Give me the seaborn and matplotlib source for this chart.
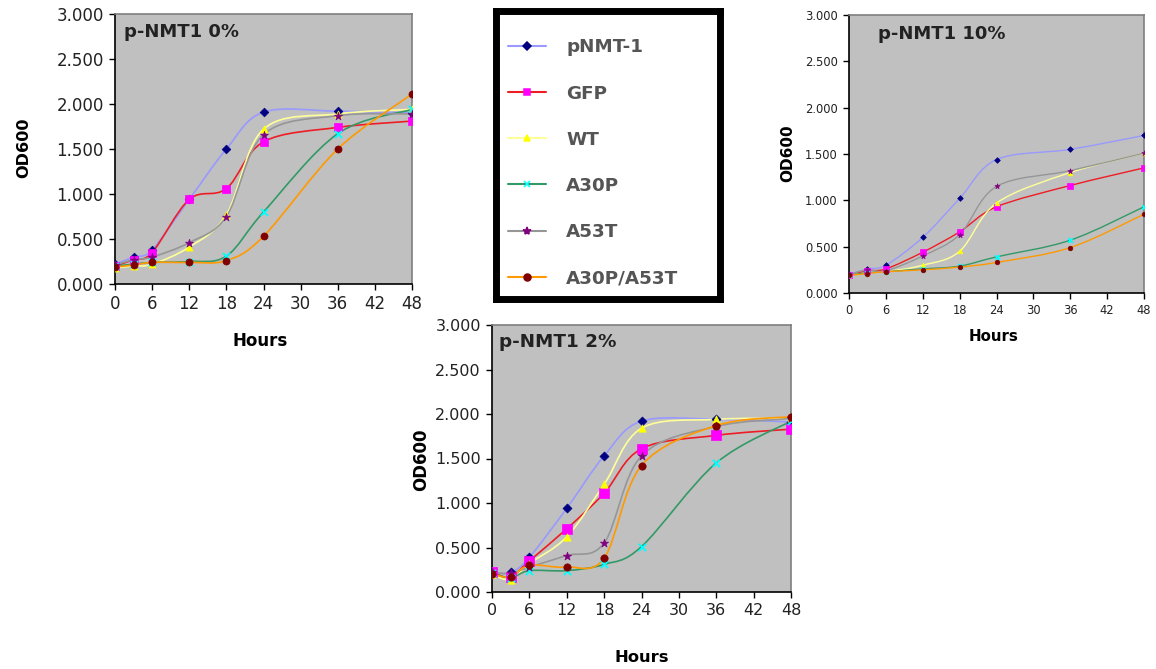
import numpy as np
import pandas as pd
import matplotlib
matplotlib.use("Agg")
import matplotlib.pyplot as plt
from matplotlib.path import Path
from matplotlib.patches import PathPatch
from matplotlib.lines import Line2D
from matplotlib.ticker import FormatStrFormatter
import seaborn as sns

sns.set_theme(style="white")
plt.rcParams['font.family'] = ['DejaVu Sans']

# ---------------- data ----------------
hours = [0, 3, 6, 12, 18, 24, 36, 48]
series_names = ["pNMT-1", "GFP", "WT", "A30P", "A53T", "A30P/A53T"]

# p-NMT1 0%
nmt0_pNMT1 = [0.22, 0.30, 0.38, 0.94, 1.50, 1.91, 1.92, 1.90]
nmt0_GFP = [0.20, 0.27, 0.35, 0.94, 1.06, 1.58, 1.74, 1.81]
nmt0_WT = [0.18, 0.20, 0.22, 0.41, 0.77, 1.72, 1.89, 1.94]
nmt0_A30P = [0.20, 0.22, 0.24, 0.25, 0.31, 0.80, 1.67, 1.94]
nmt0_A53T = [0.21, 0.27, 0.30, 0.46, 0.75, 1.66, 1.87, 1.89]
nmt0_A30PA53T = [0.19, 0.21, 0.24, 0.24, 0.26, 0.53, 1.50, 2.11]

# p-NMT1 2%
nmt2_pNMT1 = [0.22, 0.22, 0.39, 0.94, 1.53, 1.92, 1.94, 1.91]
nmt2_GFP = [0.22, 0.17, 0.35, 0.71, 1.11, 1.61, 1.76, 1.83]
nmt2_WT = [0.20, 0.14, 0.32, 0.62, 1.21, 1.84, 1.94, 1.95]
nmt2_A30P = [0.21, 0.16, 0.24, 0.24, 0.31, 0.51, 1.45, 1.92]
nmt2_A53T = [0.22, 0.21, 0.28, 0.41, 0.55, 1.53, 1.86, 1.95]
nmt2_A30PA53T = [0.20, 0.17, 0.30, 0.28, 0.38, 1.42, 1.87, 1.97]

# p-NMT1 10%
nmt10_pNMT1 = [0.20, 0.26, 0.30, 0.60, 1.02, 1.44, 1.55, 1.70]
nmt10_GFP = [0.19, 0.24, 0.26, 0.44, 0.66, 0.93, 1.16, 1.35]
nmt10_WT = [0.19, 0.22, 0.23, 0.30, 0.45, 0.97, 1.30, 1.51]
nmt10_A30P = [0.19, 0.22, 0.23, 0.26, 0.29, 0.39, 0.57, 0.93]
nmt10_A53T = [0.20, 0.25, 0.24, 0.40, 0.63, 1.15, 1.32, 1.51]
nmt10_A30PA53T = [0.19, 0.21, 0.23, 0.25, 0.28, 0.33, 0.49, 0.85]

panel_titles = ["p-NMT1 0%", "p-NMT1 2%", "p-NMT1 10%"]
y_ticks = [0.0, 0.5, 1.0, 1.5, 2.0, 2.5, 3.0]
x_ticks = [0, 6, 12, 18, 24, 30, 36, 42, 48]

# ---------------- styles ----------------
line_colors = ["#9999FF", "#EE1C25", "#FFFF99", "#339966", "#969696", "#FF9900"]
marker_colors = ["#000080", "#FF00FF", "#FFFF00", "#00FFFF", "#800080", "#800000"]
markers = ["D", "s", "^", "x", "*", "o"]


def smooth_path(xs, ys):
    """Excel-style smoothed line as cubic Bezier path through data points."""
    pts = np.column_stack([xs, ys]).astype(float)
    n = len(pts)
    verts = [tuple(pts[0])]
    codes = [Path.MOVETO]
    for i in range(n - 1):
        p0 = pts[i - 1] if i > 0 else pts[i]
        p1 = pts[i]
        p2 = pts[i + 1]
        p3 = pts[i + 2] if i + 2 < n else pts[i + 1]
        c1 = p1 + (p2 - p0) / 6.0
        c2 = p2 - (p3 - p1) / 6.0
        verts += [tuple(c1), tuple(c2), tuple(p2)]
        codes += [Path.CURVE4] * 3
    return Path(verts, codes)


def draw_panel(ax, data, title, tick_fs, title_fs, xlabel_fs, ylabel_fs, msize, lw,
               ylab_xy, xlab_xy, title_xy):
    ax.set_facecolor("#C0C0C0")
    for i, name in enumerate(series_names):
        vals = data[i]
        patch = PathPatch(smooth_path(hours, vals), facecolor="none",
                          edgecolor=line_colors[i], lw=lw, zorder=2 + i * 0.1,
                          transform=ax.transData)
        ax.add_patch(patch)
        df = pd.DataFrame({"Hours": hours, "OD600": vals})
        m = markers[i]
        s = msize
        if m == "s":
            s = msize * 1.5
        elif m == "*":
            s = msize * 1.4
        elif m == "D":
            s = msize * 0.75
        if m == "x":
            sns.scatterplot(data=df, x="Hours", y="OD600", marker=m, s=s,
                            color=marker_colors[i], linewidth=1.3, ax=ax,
                            zorder=3 + i * 0.1)
        else:
            sns.scatterplot(data=df, x="Hours", y="OD600", marker=m, s=s,
                            color=marker_colors[i], edgecolor=marker_colors[i],
                            linewidth=0.5, ax=ax, zorder=3 + i * 0.1)
    ax.set_xlim(0, 48)
    ax.set_ylim(0, 3.0)
    ax.set_xticks(x_ticks)
    ax.set_yticks(y_ticks)
    ax.yaxis.set_major_formatter(FormatStrFormatter("%.3f"))
    ax.tick_params(axis="both", direction="out", length=4, width=1,
                   color="black", labelsize=tick_fs, labelcolor="#222222",
                   bottom=True, left=True, pad=4)
    for side in ["left", "bottom"]:
        ax.spines[side].set_color("black")
        ax.spines[side].set_linewidth(1.2)
        ax.spines[side].set_visible(True)
    for side in ["top", "right"]:
        ax.spines[side].set_color("#7F7F7F")
        ax.spines[side].set_linewidth(1.2)
        ax.spines[side].set_visible(True)
    ax.set_xlabel("Hours", fontsize=xlabel_fs, fontweight="bold", color="black")
    ax.set_ylabel("OD600", fontsize=ylabel_fs, fontweight="bold", color="black")
    ax.xaxis.label.set_va("center")
    ax.yaxis.label.set_va("center")
    ax.yaxis.set_label_coords(*ylab_xy)
    ax.xaxis.set_label_coords(*xlab_xy)
    ax.text(title_xy[0], title_xy[1], title, transform=ax.transAxes,
            fontsize=title_fs, fontweight="bold", color="#222222",
            ha="left", va="center")


W, H = 1156, 669
fig = plt.figure(figsize=(W / 100, H / 100), dpi=100)
fig.patch.set_facecolor("white")


def px_axes(x0, y0, x1, y1):
    return fig.add_axes([x0 / W, 1 - y1 / H, (x1 - x0) / W, (y1 - y0) / H])


ax0 = px_axes(115, 14, 412, 284)
draw_panel(ax0, [nmt0_pNMT1, nmt0_GFP, nmt0_WT, nmt0_A30P, nmt0_A53T, nmt0_A30PA53T],
           panel_titles[0], tick_fs=12, title_fs=13, xlabel_fs=12, ylabel_fs=11.6,
           msize=26, lw=1.2,
           ylab_xy=(-0.306, 0.504), xlab_xy=(0.49, -0.211), title_xy=(0.03, 0.935))

ax2 = px_axes(492, 325, 791, 592)
draw_panel(ax2, [nmt2_pNMT1, nmt2_GFP, nmt2_WT, nmt2_A30P, nmt2_A53T, nmt2_A30PA53T],
           panel_titles[1], tick_fs=11.5, title_fs=13.2, xlabel_fs=11.8, ylabel_fs=12,
           msize=28, lw=1.2,
           ylab_xy=(-0.237, 0.496), xlab_xy=(0.50, -0.246), title_xy=(0.025, 0.935))

ax1 = px_axes(849, 15, 1144, 293)
draw_panel(ax1, [nmt10_pNMT1, nmt10_GFP, nmt10_WT, nmt10_A30P, nmt10_A53T, nmt10_A30PA53T],
           panel_titles[2], tick_fs=8.3, title_fs=13, xlabel_fs=10.8, ylabel_fs=11,
           msize=11, lw=1.0,
           ylab_xy=(-0.207, 0.504), xlab_xy=(0.49, -0.155), title_xy=(0.10, 0.93))

# ---------------- legend box ----------------
lax = px_axes(496, 11, 720, 299)
lax.set_facecolor("white")
lax.set_xticks([])
lax.set_yticks([])
for side in lax.spines:
    lax.spines[side].set_visible(True)
    lax.spines[side].set_color("black")
    lax.spines[side].set_linewidth(5)

handles = []
for i, name in enumerate(series_names):
    ms = 5
    if markers[i] == "s":
        ms = 5
    elif markers[i] == "*":
        ms = 6
    elif markers[i] == "D":
        ms = 4.5
    h = Line2D([0], [0], color=line_colors[i], lw=1.5, marker=markers[i],
               markersize=ms, markerfacecolor=marker_colors[i],
               markeredgecolor=marker_colors[i], markeredgewidth=1.1)
    handles.append(h)

leg = lax.legend(handles, series_names, loc="upper left",
                 bbox_to_anchor=(0.054, 0.905), frameon=False,
                 prop={"size": 13.2, "weight": "bold"},
                 labelspacing=1.535, handlelength=2.07, handletextpad=1.1,
                 borderaxespad=0, borderpad=0)
for t in leg.get_texts():
    t.set_color("#555555")

fig.savefig("out.png", dpi=100, facecolor="white")
